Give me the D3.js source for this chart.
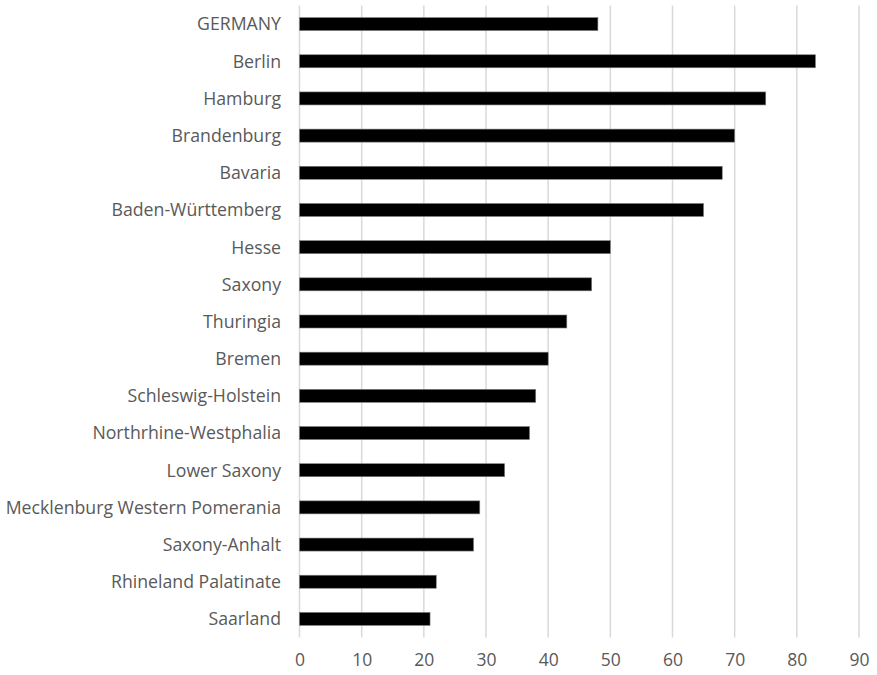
<!DOCTYPE html>
<html>
<head>
<meta charset="utf-8">
<script src="https://cdn.jsdelivr.net/npm/d3@7"></script>
<style>
html,body{margin:0;padding:0;background:#fff;}
svg{display:block;}
</style>
</head>
<body>
<svg id="chart" width="877" height="675"></svg>
<script>
const categories = ["GERMANY","Berlin","Hamburg","Brandenburg","Bavaria","Baden-Württemberg","Hesse","Saxony","Thuringia","Bremen","Schleswig-Holstein","Northrhine-Westphalia","Lower Saxony","Mecklenburg Western Pomerania","Saxony-Anhalt","Rhineland Palatinate","Saarland"];
const values = [48,83,75,70,68,65,50,47,43,40,38,37,33,29,28,22,21];
const xTicks = [0,10,20,30,40,50,60,70,80,90];

const svg = d3.select("#chart");
const margin = {left:299.5, right:18, top:5.5, bottom:37.5};
const W = 877, H = 675;
const font = "'Open Sans', Lato, sans-serif";
const x = d3.scaleLinear().domain([0,90]).range([margin.left, W - margin.right]);
const y = d3.scaleBand().domain(categories).range([margin.top, H - margin.bottom]).paddingInner(0.65).paddingOuter(0.325);

// gridlines
svg.append("g").selectAll("line").data(xTicks).join("line")
  .attr("x1", d => x(d)).attr("x2", d => x(d))
  .attr("y1", margin.top).attr("y2", H - margin.bottom)
  .attr("stroke", "#d9d9d9").attr("stroke-width", 1.5);

// bars
svg.append("g").selectAll("rect").data(categories).join("rect")
  .attr("x", x(0))
  .attr("y", d => y(d))
  .attr("width", (d,i) => x(values[i]) - x(0))
  .attr("height", y.bandwidth())
  .attr("fill", "#000")
  .attr("stroke", "#7f7f7f").attr("stroke-width", 0.6);

// category labels
const yAxis = d3.axisLeft(y).tickSize(0).tickPadding(18.5);
const gy = svg.append("g").attr("transform", `translate(${x(0)},0)`).call(yAxis);
gy.select(".domain").remove();
gy.selectAll("text").attr("font-family",font).attr("font-size","17.7px").attr("fill","#595959").attr("dy","0.36em");

// x axis labels
const xAxis = d3.axisBottom(x).tickValues(xTicks).tickSize(0).tickPadding(16).tickFormat(d3.format("d"));
const gx = svg.append("g").attr("transform", `translate(0,${H - margin.bottom})`).call(xAxis);
gx.select(".domain").remove();
gx.selectAll("text").attr("font-family",font).attr("font-size","17.5px").attr("fill","#595959");
</script>
</body>
</html>
